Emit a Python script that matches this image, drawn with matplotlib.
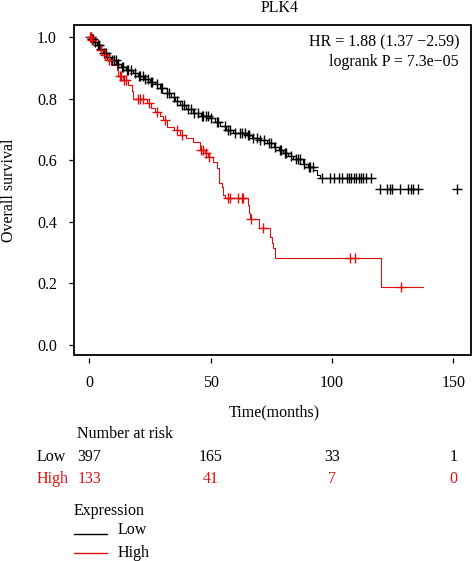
import numpy as np
import matplotlib
matplotlib.use("Agg")
import matplotlib.pyplot as plt
from matplotlib.patches import Rectangle
import matplotlib.transforms as mtransforms

plt.rcParams['font.family'] = ['Liberation Serif', 'DejaVu Serif']
fs = 11.5

# Kaplan-Meier steps (time in months, survival after the drop)
low_times = [0, 0.8, 2, 3, 4.5, 5.8, 7.5, 9, 11.3, 13, 15, 18, 20, 22.5, 25, 27, 29, 31.9,
             33.5, 35.5, 37.4, 40, 42.8, 46, 49.7, 52, 53.9, 56.5, 59.3, 64.9, 67, 70,
             73.1, 76, 78, 80, 82, 84, 88.2, 90, 92.3, 93.7, 95, 117.7]
low_surv = [1.0, 0.995, 0.985, 0.975, 0.962, 0.948, 0.935, 0.925, 0.912, 0.903, 0.895,
            0.883, 0.873, 0.865, 0.856, 0.847, 0.835, 0.818, 0.806, 0.793, 0.78, 0.767,
            0.753, 0.745, 0.737, 0.725, 0.712, 0.70, 0.688, 0.682, 0.672, 0.665, 0.655,
            0.645, 0.635, 0.623, 0.613, 0.603, 0.587, 0.578, 0.569, 0.552, 0.542, 0.542]
low_cens = [0.5, 1, 1.5, 2.5, 3.5, 4, 5, 6, 7, 8, 9.5, 10, 11, 12, 13.5, 14, 15.5, 16,
            17, 19, 20.5, 21, 22, 23, 24, 25.5, 26, 28, 29.5, 30, 32, 33, 35, 36, 38,
            39, 40.5, 42, 43, 45, 46.5, 47, 48, 49, 50, 52.5, 53, 56, 57, 58, 60, 62,
            63, 64, 65.5, 66, 67.5, 69, 70.5, 72, 74, 75, 76.5, 78.5, 79, 80.5, 81,
            83, 85, 86, 87, 88.5, 90.5, 91, 92, 96, 99, 101, 103, 104, 106, 107, 108,
            109, 110, 111, 112, 113, 114, 116]
low_tail_cens = [119.8, 122.5, 124, 124.6, 128, 131.4, 132.5, 133.5, 135.6, 151.4]
low_tail_surv = 0.506

high_times = [0, 1, 2.5, 4.4, 6, 7.2, 9, 11.3, 12, 14, 16.1, 17.5, 18.1, 23.6, 25.5, 27.1,
              29, 30.5, 31.9, 35, 37.4, 40, 42.8, 45.6, 47.5, 49, 51, 52.5, 53.6, 54.6,
              55.2, 56, 65.5, 65.9, 66.2, 70, 74.5, 75.2, 75.8, 76.5, 120.2, 137.4]
high_surv = [1.0, 0.99, 0.975, 0.959, 0.942, 0.926, 0.91, 0.894, 0.874, 0.86, 0.845,
             0.825, 0.80, 0.785, 0.77, 0.758, 0.745, 0.731, 0.71, 0.70, 0.682, 0.672,
             0.661, 0.634, 0.625, 0.612, 0.595, 0.574, 0.527, 0.512, 0.487, 0.479,
             0.455, 0.428, 0.409, 0.381, 0.35, 0.33, 0.314, 0.282, 0.1875, 0.1875]
high_cens = [0.3, 0.6, 1.2, 5, 6.5, 8, 12.5, 13, 14.5, 15, 20, 21, 22, 24.5, 28, 31, 36,
             38, 46, 47, 48.2, 49.5, 57.3, 58, 61.1, 62.8, 63.2, 66.6, 71.5, 107.5,
             109.5, 128.3]

# Number at risk table
risk_times = [0, 50, 100, 150]
risk_low = [397, 165, 33, 1]
risk_high = [133, 41, 7, 0]

title = "PLK4"
hr_text = "HR = 1.88 (1.37 \u22122.59)"
p_text = "logrank P = 7.3e\u221205"

black = "black"
red = "#dd1010"

W, H = 472, 561
fig = plt.figure(figsize=(W / 100, H / 100), dpi=100)
ax = fig.add_axes([74 / W, 1 - 355 / H, 397 / W, 330 / H])


def surv_at(times, surv, t):
    i = np.searchsorted(times, t, side='right') - 1
    return np.array(surv)[i]


ax.step(low_times, low_surv, where='post', color=black, lw=0.8)
ax.step(high_times, high_surv, where='post', color=red, lw=0.8)
ax.plot(low_cens, surv_at(low_times, low_surv, low_cens), '+', color=black, ms=7, mew=1.0)
ax.plot(low_tail_cens, [low_tail_surv] * len(low_tail_cens), '+', color=black, ms=7, mew=1.0)
ax.plot(high_cens, surv_at(high_times, high_surv, high_cens), '+', color=red, ms=7, mew=1.0)

ax.set_xlim(-6.3, 157.3)
ax.set_ylim(-0.0325, 1.04)
ax.set_xticks([0, 50, 100, 150])
ax.set_yticks([0.0, 0.2, 0.4, 0.6, 0.8, 1.0])
ax.set_yticklabels(["0.0", "0.2", "0.4", "0.6", "0.8", "1.0"])
for s in ax.spines.values():
    s.set_visible(False)
ax.spines['bottom'].set_position(('outward', 2.2))
ax.tick_params(axis='x', length=3.8, width=0.9, pad=8.5, labelsize=fs)
ax.tick_params(axis='y', length=3.8, width=0.9, pad=8.5, labelsize=fs)
ax.add_patch(Rectangle((0, 0), 1, 1, transform=ax.transAxes, fill=False,
                       lw=1.3, edgecolor='black', clip_on=False))

ax.text(0.97, 1 - (46 - 25) / 330, hr_text, transform=ax.transAxes, ha='right',
        va='baseline', fontsize=fs)
ax.text(0.97, 1 - (66.5 - 25) / 330, p_text, transform=ax.transAxes, ha='right',
        va='baseline', fontsize=fs)


def fy(py):
    return 1 - py / H


fig.text(280 / W, fy(12.5), title, ha='center', va='baseline', fontsize=fs)
fig.text(9 / W, fy(190), "Overall survival", rotation=90, ha='center', va='center', fontsize=fs)
fig.text(274 / W, fy(416.7), "Time(months)", ha='center', va='baseline', fontsize=fs)

# risk table
fig.text(77 / W, fy(438), "Number at risk", ha='left', va='baseline', fontsize=fs)
fig.text(37 / W, fy(460.7), "Low", ha='left', va='baseline', fontsize=fs, color=black)
fig.text(37 / W, fy(483.3), "High", ha='left', va='baseline', fontsize=fs, color=red)
trans = mtransforms.blended_transform_factory(ax.transData, fig.transFigure)
for t, nl, nh in zip(risk_times, risk_low, risk_high):
    fig.text(t, fy(460.7), str(nl), transform=trans, ha='center', va='baseline',
             fontsize=fs, color=black)
    fig.text(t, fy(483.3), str(nh), transform=trans, ha='center', va='baseline',
             fontsize=fs, color=red)

# legend
fig.text(74 / W, fy(515), "Expression", ha='left', va='baseline', fontsize=fs)
fig.add_artist(plt.Line2D([74 / W, 107 / W], [fy(534), fy(534)], color=black, lw=1.0))
fig.text(118 / W, fy(534), "Low", ha='left', va='baseline', fontsize=fs)
fig.add_artist(plt.Line2D([74 / W, 107 / W], [fy(553.3), fy(553.3)], color=red, lw=1.0))
fig.text(118 / W, fy(556.7), "High", ha='left', va='baseline', fontsize=fs)

fig.savefig("out.png", dpi=100)
